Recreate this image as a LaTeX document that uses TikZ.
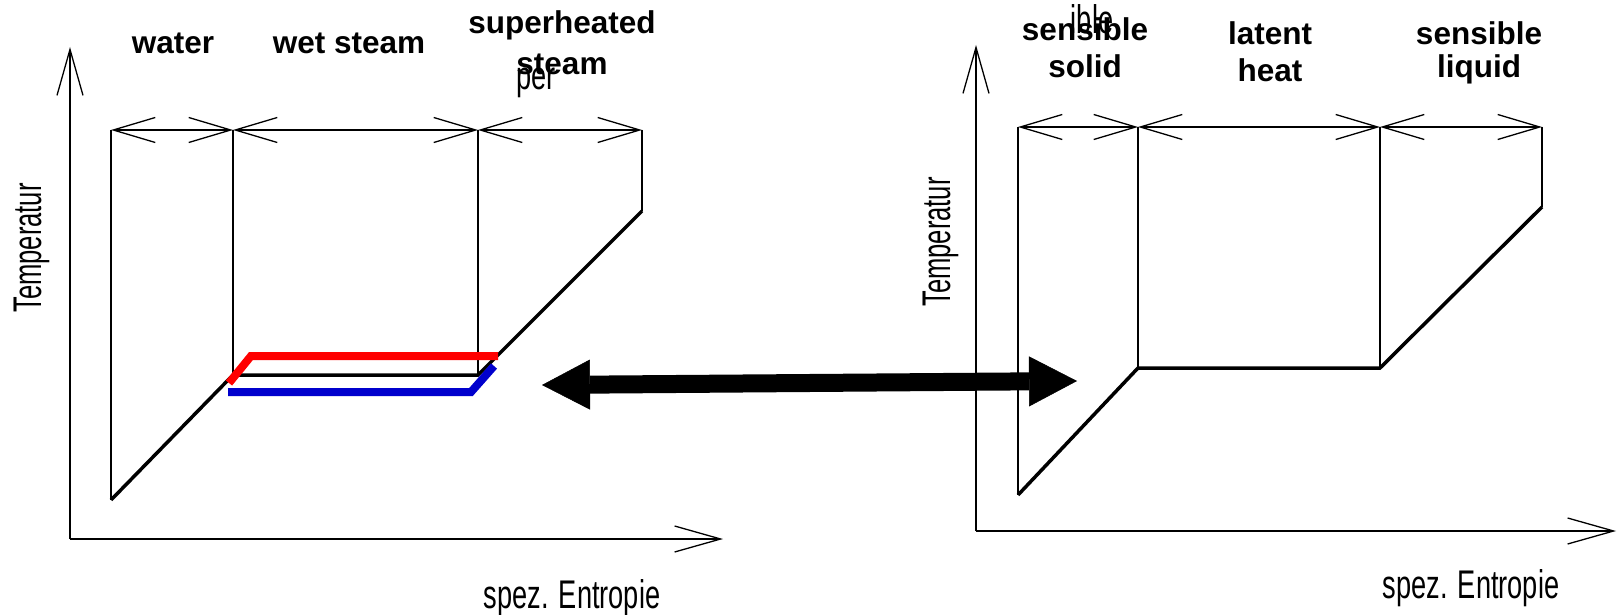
\documentclass[tikz,border=0pt]{standalone}
\usepackage{fontspec}
\setmainfont{Liberation Sans}
\usetikzlibrary{arrows.meta}
\definecolor{plotred}{RGB}{255,0,0}
\definecolor{plotblue}{RGB}{0,0,205}
\begin{document}
\begin{tikzpicture}[x=1pt,y=-1pt,
  thinline/.style={line width=1.3pt, black},
  thickline/.style={line width=3.5pt, black, line join=miter},
  dimarrow/.style={thinline, {Straight Barb[length=42pt,width=25pt]}-{Straight Barb[length=42pt,width=25pt]}},
  axisarrow/.style={thinline, -{Straight Barb[length=46pt,width=26pt]}},
  heading/.style={font=\fontsize{31.5}{36}\selectfont\bfseries, inner sep=0pt, anchor=base},
  axlabel/.style={font=\fontsize{40}{46}\selectfont, inner sep=0pt, anchor=base},
  redpath/.style={line width=8pt, plotred, line join=miter},
  bluepath/.style={line width=8pt, plotblue, line join=miter},
  bigarrow/.style={line width=18pt, black, {Triangle[length=48pt,width=50pt,line width=0.5pt]}-{Triangle[length=48pt,width=50pt,line width=0.5pt]}},
]
\useasboundingbox (0,0) rectangle (1617,615);

% ---------- left diagram ----------
\coordinate (LO) at (70,539);
\coordinate (LYT) at (70,47);
\coordinate (LXT) at (723,539);
\coordinate (LA) at (111,130);
\coordinate (LB) at (233,130);
\coordinate (LC) at (478,130);
\coordinate (LD) at (642,130);
\coordinate (LA1) at (111,500);
\coordinate (LB1) at (233,375);
\coordinate (LC1) at (478,375);
\coordinate (LD1) at (642,211);

\draw[axisarrow] (LO) -- (LYT);
\draw[axisarrow] (LO) -- (LXT);
\draw[thinline] (LA) -- (LA1);
\draw[thinline] (LB) -- (LB1);
\draw[thinline] (LC) -- (LC1);
\draw[thinline] (LD) -- (LD1);
\draw[dimarrow] (LA) -- (LB);
\draw[dimarrow] (LB) -- (LC);
\draw[dimarrow] (LC) -- (LD);
\draw[thickline] (LA1) -- (LB1) -- (LC1) -- (LD1);

\coordinate (R1) at (229,383);
\coordinate (R2) at (251,356);
\coordinate (R3) at (498,356);
\coordinate (B1) at (228,392);
\coordinate (B2) at (471,392);
\coordinate (B3) at (494,366);
\draw[redpath] (R1) -- (R2) -- (R3);
\draw[bluepath] (B1) -- (B2) -- (B3);

\node[heading] (water) at (173,54) {water};
\node[heading] (wet) at (349,54) {wet steam};
\node[heading] (sup) at (562,34) {superheated};
\node[heading] (stm) at (562,75) {steam};
\node[axlabel] (per) at (536,90) {\scalebox{0.68}[1]{per}};
\node[axlabel, rotate=90] (tl) at (41,248) {\scalebox{0.64}[1]{Temperatur}};
\node[axlabel] (el) at (572,608) {\scalebox{0.68}[1]{spez. Entropie}};

% ---------- big double arrow ----------
\coordinate (AL) at (542,385);
\coordinate (AR) at (1077,381);
\draw[bigarrow] (AL) -- (AR);

% ---------- right diagram ----------
\coordinate (RO) at (976,531);
\coordinate (RYT) at (976,45);
\coordinate (RXT) at (1616,531);
\coordinate (RA) at (1018,127);
\coordinate (RB) at (1138,127);
\coordinate (RC) at (1380,127);
\coordinate (RD) at (1542,127);
\coordinate (RA1) at (1018,495);
\coordinate (RB1) at (1138,368);
\coordinate (RC1) at (1380,368);
\coordinate (RD1) at (1542,207);

\draw[axisarrow] (RO) -- (RYT);
\draw[axisarrow] (RO) -- (RXT);
\draw[thinline] (RA) -- (RA1);
\draw[thinline] (RB) -- (RB1);
\draw[thinline] (RC) -- (RC1);
\draw[thinline] (RD) -- (RD1);
\draw[dimarrow] (RA) -- (RB);
\draw[dimarrow] (RB) -- (RC);
\draw[dimarrow] (RC) -- (RD);
\draw[thickline] (RA1) -- (RB1) -- (RC1) -- (RD1);

\node[axlabel] (ible) at (1092,34) {\scalebox{0.68}[1]{ible}};
\node[heading] (sens1) at (1085,41) {sensible};
\node[heading] (solid) at (1085,78) {solid};
\node[heading] (lat) at (1270,45) {latent};
\node[heading] (heat) at (1270,82) {heat};
\node[heading] (sens2) at (1479,45) {sensible};
\node[heading] (liq) at (1479,78) {liquid};
\node[axlabel, rotate=90] (tr) at (950,242) {\scalebox{0.64}[1]{Temperatur}};
\node[axlabel] (er) at (1471,598) {\scalebox{0.68}[1]{spez. Entropie}};
\end{tikzpicture}
\end{document}
